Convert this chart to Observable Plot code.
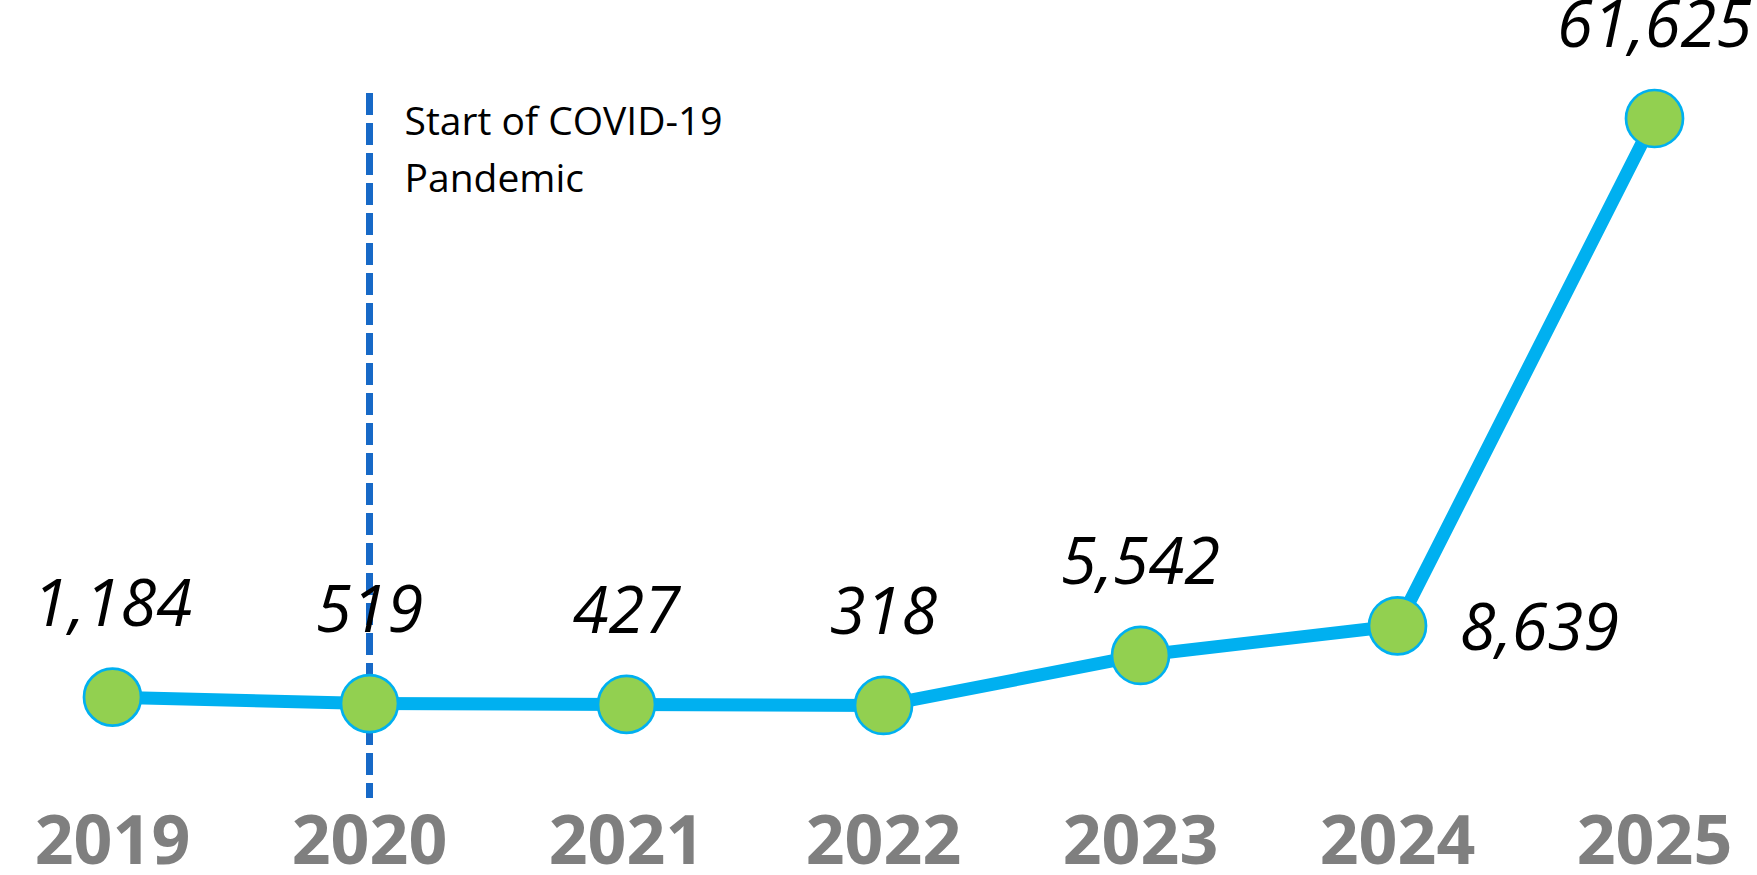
<!DOCTYPE html>
<html>
<head>
<meta charset="utf-8">
<script src="https://cdn.jsdelivr.net/npm/d3@7"></script>
<script src="https://cdn.jsdelivr.net/npm/@observablehq/plot@0.6"></script>
<style>
  html, body { margin: 0; padding: 0; background: #ffffff; }
  #chart svg { display: block; }
</style>
</head>
<body>
<div id="chart"></div>
<script>
// ---- Data ----
const years = ["2019", "2020", "2021", "2022", "2023", "2024", "2025"];
const values = [1184, 519, 427, 318, 5542, 8639, 61625];
const eventYear = "2020";
const eventLabel = "Start of COVID-19\nPandemic";
const sideLabelYears = ["2024"];

const data = years.map((year, i) => ({year, value: values[i]}));
const fmt = d3.format(",");

const chart = Plot.plot({
  width: 1757,
  height: 875,
  marginLeft: 110,
  marginRight: 102,
  marginTop: 93,
  marginBottom: 77,
  style: {fontFamily: "'Open Sans', sans-serif", background: "#ffffff"},
  x: {type: "point", domain: years, range: [110, 1655], padding: 0, axis: null, label: null},
  y: {domain: [0, 61625], range: [708, 118], axis: null, label: null},
  marks: [
    Plot.axisX({
      label: null,
      tickSize: 0,
      tickPadding: 17,
      fontSize: 68,
      fontWeight: "bold",
      fill: "#7F7F7F",
      fontFamily: "'Open Sans', sans-serif"
    }),
    Plot.ruleX([eventYear], {
      x: d => d,
      stroke: "#1769C7",
      strokeWidth: 7,
      strokeDasharray: "22,8"
    }),
    Plot.text([eventLabel], {
      x: () => eventYear,
      text: d => d,
      frameAnchor: "top",
      textAnchor: "start",
      lineAnchor: "top",
      dx: 35,
      dy: 2,
      fontSize: 39,
      lineHeight: 1.44,
      fill: "#000000"
    }),
    Plot.line(data, {
      x: "year",
      y: "value",
      stroke: "#00B0F0",
      strokeWidth: 13,
      strokeLinejoin: "round"
    }),
    Plot.dot(data, {
      x: "year",
      y: "value",
      r: 28.5,
      fill: "#92D050",
      stroke: "#00B0F0",
      strokeWidth: 2.7
    }),
    Plot.text(data.filter(d => !sideLabelYears.includes(d.year)), {
      x: "year",
      y: "value",
      text: d => fmt(d.value),
      dy: -92,
      fontSize: 65,
      fontStyle: "italic",
      fill: "#000000"
    }),
    Plot.text(data.filter(d => sideLabelYears.includes(d.year)), {
      x: "year",
      y: "value",
      text: d => fmt(d.value),
      dx: 142,
      dy: 3,
      fontSize: 65,
      fontStyle: "italic",
      fill: "#000000"
    })
  ]
});

document.getElementById("chart").appendChild(chart);
</script>
</body>
</html>
